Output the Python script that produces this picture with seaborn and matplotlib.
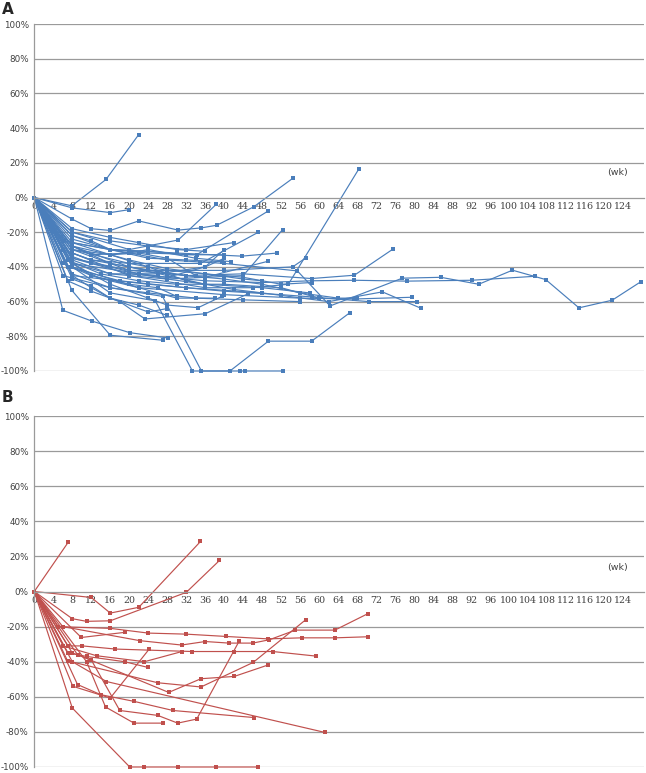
import matplotlib
matplotlib.use("Agg")
import matplotlib.pyplot as plt
import seaborn as sns
import pandas as pd

sns.set_theme(style="white")
plt.rcParams['font.family'] = ['DejaVu Sans']

# ---------------- data: panel A (weeks, % change) ----------------
A_weeks = [
    [0, 7.9, 15.1, 22],
    [0, 8, 16, 20],
    [0, 8, 12, 16, 22, 30.3, 35.2, 38.4, 46.2, 54.4],
    [0, 8, 20, 30.3, 38.3],
    [0, 8, 16, 24, 34.2, 49.3],
    [0, 8, 20, 35, 47.2],
    [0, 8, 16, 28, 44, 52.3],
    [0, 6, 16, 30, 43.7, 51.2],
    [0, 8, 20, 36, 49.3],
    [0, 8, 20, 32, 44, 58.4, 67.4, 75.5],
    [0, 8, 16, 28, 40, 55.4, 62.3, 77.5, 85.6, 93.6, 100.7, 107.7, 114.7, 121.7, 127.7],
    [0, 8, 20, 36, 48, 58.4, 67.4, 78.4, 92.1, 105.5],
    [0, 8, 24, 40, 52, 58.4, 70.4, 80.5],
    [0, 7, 18, 32, 48, 62, 73.3, 81.4],
    [0, 8, 22, 40, 56, 67.4, 79.5],
    [0, 8, 16, 25.5, 33.3, 41.2, 49.3, 58.4, 66.5],
    [0, 6, 16, 27, 35.2, 43.3, 44.4, 52.3],
    [0, 6, 12.1, 20.1, 28.2],
    [0, 7.9, 16, 27.2],
    [0, 8, 20, 36, 46, 53.5, 68.4],
    [0, 8, 20, 40, 54.4, 57.3],
    [0, 8, 16, 22, 30, 36],
    [0, 8, 12, 16, 24, 32, 40],
    [0, 4, 8, 16, 24, 32, 39.5],
    [0, 8, 16, 20, 28, 36, 44, 52, 58.4],
    [0, 8, 16, 24, 32, 40, 48, 56, 64, 68],
    [0, 6, 12, 20, 28, 36, 48, 58],
    [0, 8, 12, 20, 26, 30],
    [0, 8, 12, 16, 24, 28],
    [0, 7, 12, 18, 23.3, 36, 45],
    [0, 8, 12, 16, 22, 28],
    [0, 8, 16, 24, 28, 34.5, 39.5],
    [0, 6, 12, 16, 22, 30, 38],
    [0, 8, 12, 16, 22, 28, 36, 42, 48],
    [0, 8, 16, 24, 32, 36],
    [0, 8, 16, 26, 36, 40],
    [0, 8, 12, 20, 28, 36, 44, 48],
    [0, 8, 20, 28, 36, 40],
    [0, 8, 16, 24, 32, 42],
    [0, 8, 12, 20, 24, 34, 41.5],
    [0, 7, 14, 22, 30, 40, 52, 60],
    [0, 8, 16, 22, 28, 34],
    [0, 8, 16, 24, 34, 44, 56],
]
A_pct = [
    [0, -4.8, 10.4, 36.3],
    [0, -6, -8.7, -7],
    [0, -12.5, -18, -19, -13.5, -18.8, -17.5, -16, -5.4, 11],
    [0, -20, -30, -24.5, -4],
    [0, -24, -30, -32, -33, -7.7],
    [0, -30, -38, -38, -20],
    [0, -38, -44, -47, -45, -18.5],
    [0, -25, -30, -32, -33.8, -32],
    [0, -30, -42, -46, -36.7],
    [0, -28, -40, -45, -44, -46.7, -44.8, -29.8],
    [0, -22, -30, -36, -38, -42.3, -62.5, -46.5, -46, -50, -41.9, -47.3, -63.6, -59.2, -48.6],
    [0, -35, -44, -48, -49, -48, -47.7, -48.2, -47.7, -45.4],
    [0, -45, -50, -54, -56, -57.3, -60, -60],
    [0, -40, -48, -52, -55, -60, -54.4, -63.8],
    [0, -40, -52, -56, -58, -58.5, -57.5],
    [0, -40, -55, -59.6, -100, -100, -82.8, -82.8, -66.3],
    [0, -45, -52, -57, -100, -100, -100, -100],
    [0, -65, -71.2, -77.9, -81],
    [0, -53.5, -79.4, -82.3],
    [0, -32, -45, -52, -52, -50, 16.7],
    [0, -35, -42, -42, -40, -34.6],
    [0, -18, -23, -26, -30, -31],
    [0, -22, -25, -30, -31, -33, -33],
    [0, -20, -26, -30, -35, -36, -37],
    [0, -26, -33, -36, -41, -44, -46, -50, -49],
    [0, -28, -38, -42, -45, -47, -50, -55, -58, -58],
    [0, -30, -36, -40, -45, -50, -52, -55],
    [0, -38, -45, -50, -52, -57],
    [0, -45, -52, -58, -66, -64],
    [0, -48, -54, -60, -70, -67, -55.5],
    [0, -47, -51, -58, -62, -68],
    [0, -38, -50, -58, -62, -63.5, -57],
    [0, -38, -45, -48, -52, -58, -58],
    [0, -34, -38, -40, -44, -47, -50, -53, -55],
    [0, -30, -33, -40, -48, -50],
    [0, -36, -44, -44, -40, -35],
    [0, -32, -36, -38, -42, -44, -47, -48],
    [0, -38, -43, -46, -40, -30],
    [0, -20, -25, -28, -30, -26],
    [0, -28, -33, -32, -30, -35, -37],
    [0, -36, -44, -48, -50, -50, -52, -58],
    [0, -28, -33, -32, -35, -45],
    [0, -44, -52, -55, -58, -59, -60],
]

# ---------------- data: panel B ----------------
B_weeks = [
    [0, 7.2],
    [0, 12, 16, 22, 35],
    [0, 8, 11, 16, 32, 39],
    [0, 5, 16, 24, 32, 40.3, 49.2, 56.3, 63.3, 70.2],
    [0, 6, 22.2, 31, 36, 41, 46, 49.5, 55, 63.3, 70.2],
    [0, 9.9, 19],
    [0, 7.1, 10.1, 17.1, 33.2, 42, 50.2, 59.3],
    [0, 7.1, 11, 19, 24],
    [0, 6.1, 13.1, 23.2, 31.1],
    [0, 7, 26, 35.1, 46.1, 57.2],
    [0, 9.1, 28.3, 35.1, 42.1, 49.2],
    [0, 8, 15.2, 61.2],
    [0, 8.1, 16, 24.2],
    [0, 9.1, 14, 21, 29.2, 46.2],
    [0, 11, 15, 21, 27.1],
    [0, 8, 12, 18, 26, 30.2, 34.2, 43.2],
    [0, 8, 20.1, 23.1, 30.3, 38.2, 47.2],
]
B_pct = [
    [0, 28.3],
    [0, -3.4, -12.3, -9, 28.5],
    [0, -15.5, -17, -16.7, -0.5, 17.7],
    [0, -20, -21, -23.7, -24.3, -25.6, -27, -26.4, -26.4, -25.8],
    [0, -20, -28, -30.5, -28.5, -29.4, -29.4, -27.5, -22, -22, -12.7],
    [0, -26.2, -23.3],
    [0, -31, -31, -32.8, -34.2, -34.2, -34.2, -36.8],
    [0, -35, -37, -40, -43.3],
    [0, -31, -36.6, -40, -34.2],
    [0, -39.5, -52, -54.4, -40.4, -16],
    [0, -36, -57.5, -49.7, -48.4, -41.9],
    [0, -40, -51.3, -80.3],
    [0, -54, -60.7, -32.8],
    [0, -53, -58.8, -62.6, -67.8, -71.8],
    [0, -40, -65.8, -75, -75],
    [0, -35, -39, -67.8, -70.6, -75, -72.7, -28],
    [0, -66.4, -100, -100, -100, -100, -100],
]

x_ticks = list(range(0, 125, 4))
y_ticks = [-100, -80, -60, -40, -20, 0, 20, 40, 60, 80, 100]
y_labels = [f"{v}%" for v in y_ticks]


def to_long(weeks, pcts):
    rows = []
    for i, (w, p) in enumerate(zip(weeks, pcts)):
        for k, (a, b) in enumerate(zip(w, p)):
            rows.append({"pid": i, "order": k, "wk": a, "pct": b})
    return pd.DataFrame(rows)


W, H = 646, 773
fig = plt.figure(figsize=(W / 100, H / 100), dpi=100)
axA = fig.add_axes([34.3 / W, (H - 371) / H, (644 - 34.3) / W, (371 - 24) / H])
axB = fig.add_axes([34.3 / W, (H - 767) / H, (644 - 34.3) / W, (767 - 416) / H])

grid_c = "#9a9a9a"


def style(ax, color, weeks, pcts, label_y):
    df = to_long(weeks, pcts)
    sns.lineplot(data=df, x="wk", y="pct", units="pid", estimator=None, sort=False,
                 color=color, linewidth=0.85, marker="s", markersize=2.4,
                 markeredgewidth=0, markeredgecolor=color, ax=ax, legend=False,
                 clip_on=False)
    ax.set_xlim(0, 128.4)
    ax.set_ylim(-100, 100)
    ax.set_xlabel("")
    ax.set_ylabel("")
    ax.set_yticks(y_ticks)
    ax.set_yticklabels(y_labels, fontsize=6.3, color="#404040")
    ax.tick_params(axis="y", length=0, pad=4)
    for v in y_ticks:
        if v != 0:
            ax.axhline(v, color=grid_c, lw=0.9, zorder=0)
    ax.spines["top"].set_visible(False)
    ax.spines["right"].set_visible(False)
    ax.spines["left"].set_color(grid_c)
    ax.spines["left"].set_linewidth(0.9)
    ax.spines["bottom"].set_position(("data", 0))
    ax.spines["bottom"].set_color(grid_c)
    ax.spines["bottom"].set_linewidth(0.9)
    ax.set_xticks(x_ticks)
    ax.set_xticklabels([str(t) for t in x_ticks], fontsize=6.8, color="#404040",
                       family="DejaVu Serif")
    ax.tick_params(axis="x", direction="in", length=3, width=0.7, color=grid_c, pad=3)
    ax.text(122.9, label_y, "(wk)", fontsize=6.8, color="#404040", ha="center", va="center")
    ax.set_facecolor("white")


style(axA, "#4a7ebb", A_weeks, A_pct, 14.6)
style(axB, "#c0504d", B_weeks, B_pct, 13.5)

fig.text(2 / W, 1 - 10 / H, "A", fontsize=11, fontweight="bold", va="center", ha="left")
fig.text(2 / W, 1 - 398 / H, "B", fontsize=11, fontweight="bold", va="center", ha="left")

fig.savefig("out.png", dpi=100, facecolor="white")
